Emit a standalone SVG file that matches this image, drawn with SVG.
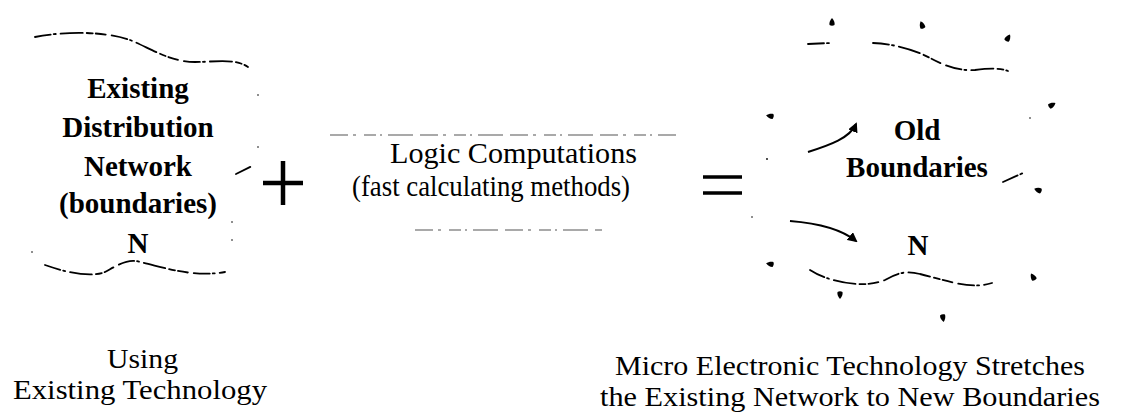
<svg xmlns="http://www.w3.org/2000/svg" xmlns:xlink="http://www.w3.org/1999/xlink" width="1133" height="414" viewBox="0 0 1133 414">
<style>
.bold{font-family:"Liberation Serif","Times New Roman",serif;font-weight:bold;font-size:29px;fill:#000;text-anchor:middle}
.reg{font-family:"Liberation Serif","Times New Roman",serif;font-size:30px;fill:#000}
.cap{font-family:"Liberation Serif","Times New Roman",serif;font-size:27px;fill:#000}
.wave{fill:none;stroke:#000;stroke-width:1.8;stroke-linecap:round;stroke-dasharray:16 3 2 5 22 4 6 3 10 6}
.faint{fill:none;stroke:#555;stroke-width:1.2;stroke-dasharray:18 5 3 8 12 4 2 6 25 7}
.dot{fill:#000}
.sym{stroke:#000;stroke-linecap:butt;fill:none}
.arrow{fill:none;stroke:#000;stroke-width:2;marker-end:url(#ah)}
</style>
<defs>
<marker id="ah" viewBox="0 0 10 10" refX="8" refY="5" markerWidth="5" markerHeight="5" orient="auto" markerUnits="strokeWidth">
<path d="M0,0 L10,5 L0,10 Z" fill="#000"/>
</marker>
<path id="drop" d="M0,-4 C2,-2 3,1 2.5,3 C1,4 -1,4 -2.5,3 C-3,1 -2,-2 0,-4 Z"/>
</defs>
<rect width="1133" height="414" fill="#fff"/>

<g id="existing-network">
<path class="wave" d="M35,37 C60,32 100,30 130,40 C150,48 170,62 195,62 C215,62 235,58 248,67"/>
<path class="wave" d="M45,265 C65,272 90,278 105,272 C118,265 128,258 140,262 C160,266 190,278 225,272"/>
<path class="wave" d="M236,174 L252,166"/>
<circle class="dot" cx="258" cy="95" r="0.8"/>
<circle class="dot" cx="258" cy="147" r="0.8"/>
<circle class="dot" cx="232" cy="222" r="0.8"/>
<circle class="dot" cx="232" cy="240" r="0.8"/>
<circle class="dot" cx="32" cy="252" r="0.8"/>
<text class="bold" x="138" y="98">Existing</text>
<text class="bold" x="138" y="137">Distribution</text>
<text class="bold" x="138" y="176">Network</text>
<text class="bold" x="138" y="213">(boundaries)</text>
<text class="bold" x="138" y="253">N</text>
</g>

<g id="plus">
<path class="sym" stroke-width="4.5" d="M283,161 V205 M263,183 H303"/>
</g>

<g id="logic">
<path class="faint" d="M330,135 H676"/>
<path class="faint" d="M415,230 H602"/>
<text class="reg" x="390" y="163" textLength="247" lengthAdjust="spacingAndGlyphs">Logic Computations</text>
<text class="reg" x="352" y="196" textLength="278" lengthAdjust="spacingAndGlyphs">(fast calculating methods)</text>
</g>

<g id="equals">
<path class="sym" stroke-width="3.5" d="M703,177 H742 M703,193 H742"/>
</g>

<g id="old-boundaries">
<path class="wave" d="M808,44 L830,43 M873,43 C895,44 915,50 930,58 C945,66 958,71 975,70 C990,68 1000,68 1008,71"/>
<path class="wave" d="M810,270 C825,280 860,290 885,280 C895,274 905,270 920,274 C945,280 970,290 992,283"/>
<path class="wave" d="M1003,182 L1023,173"/>
<use href="#drop" transform="translate(832,22)"/>
<use href="#drop" transform="translate(922,25) rotate(-20)"/>
<use href="#drop" transform="translate(1008,38) rotate(30)"/>
<use href="#drop" transform="translate(1052,105) rotate(60)"/>
<use href="#drop" transform="translate(770,116) rotate(-80)"/>
<use href="#drop" transform="translate(1038,190) rotate(-70)"/>
<use href="#drop" transform="translate(770,264) rotate(-80)"/>
<use href="#drop" transform="translate(1033,277) rotate(-30)"/>
<use href="#drop" transform="translate(840,295) rotate(180)"/>
<use href="#drop" transform="translate(943,318) rotate(170)"/>
<circle class="dot" cx="1030" cy="118" r="0.8"/>
<circle class="dot" cx="767" cy="159" r="0.9"/>
<circle class="dot" cx="752" cy="217" r="0.8"/>
<text class="bold" x="917" y="140">Old</text>
<text class="bold" x="917" y="177">Boundaries</text>
<text class="bold" x="918" y="255">N</text>
</g>

<g id="connectors">
<path class="arrow" d="M808,152 C830,145 850,138 856,124"/>
<path class="arrow" d="M790,221 C815,223 840,228 856,241"/>
</g>

<g id="captions">
<text class="cap" x="107" y="368" textLength="71" lengthAdjust="spacingAndGlyphs">Using</text>
<text class="cap" x="13" y="399" textLength="254" lengthAdjust="spacingAndGlyphs">Existing Technology</text>
<text class="cap" x="615" y="375" textLength="470" lengthAdjust="spacingAndGlyphs">Micro Electronic Technology Stretches</text>
<text class="cap" x="600" y="406" textLength="500" lengthAdjust="spacingAndGlyphs">the Existing Network to New Boundaries</text>
</g>
</svg>
